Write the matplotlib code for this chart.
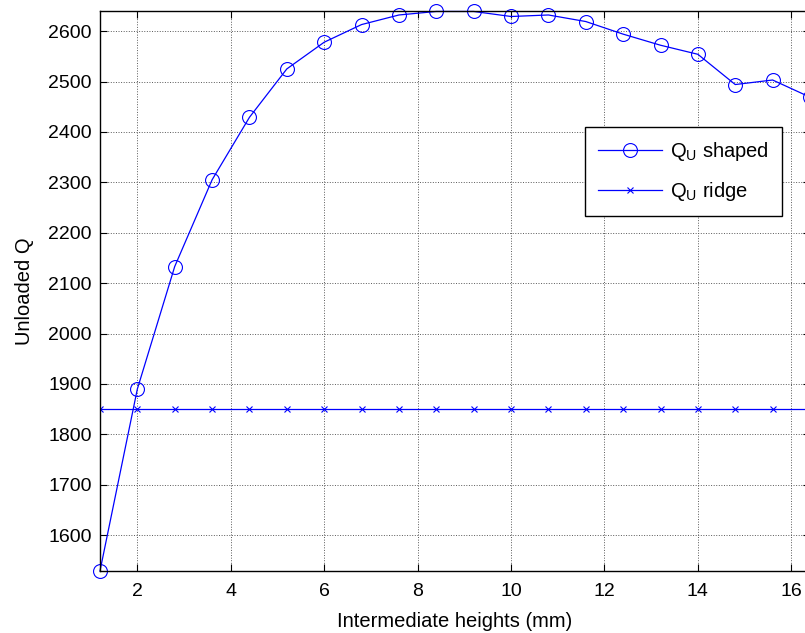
import numpy as np
import matplotlib.pyplot as plt

plt.rcParams['font.family'] = ['Liberation Sans', 'DejaVu Sans']
plt.rcParams['mathtext.fontset'] = 'custom'
plt.rcParams['mathtext.rm'] = 'Liberation Sans'
plt.rcParams['mathtext.it'] = 'Liberation Sans'

# intermediate heights (mm) and unloaded Q values
heights = [1.2, 2.0, 2.8, 3.6, 4.4, 5.2, 6.0, 6.8, 7.6, 8.4,
           9.2, 10.0, 10.8, 11.6, 12.4, 13.2, 14.0, 14.8, 15.6, 16.4]
q_shaped = [1529, 1890, 2133, 2305, 2429, 2525, 2578, 2613, 2632, 2639,
            2639, 2629, 2632, 2619, 2594, 2572, 2554, 2494, 2503, 2469]
q_ridge = [1850] * len(heights)

fig = plt.figure(figsize=(8.05, 6.33), dpi=100)
ax = fig.add_axes([0.1242, 0.098, 0.882, 0.8847])

ax.plot(heights, q_shaped, '-o', color='blue', lw=0.9, ms=10,
        mfc='none', mew=0.8, label=r'Q$_{\mathrm{U}}$ shaped', clip_on=False)
ax.plot(heights, q_ridge, '-x', color='blue', lw=0.9, ms=5,
        mew=0.8, label=r'Q$_{\mathrm{U}}$ ridge')

ax.set_xlim(1.2, 16.4)
ax.set_ylim(1529, 2640)
ax.set_xticks(np.arange(2, 17, 2))
ax.set_yticks(np.arange(1600, 2601, 100))

ax.grid(True, linestyle=':', color='0.35', linewidth=0.7)
ax.tick_params(direction='in', length=5, top=True, right=True,
               labelsize=14, width=0.8)
ax.tick_params(axis='x', pad=9)
ax.tick_params(axis='y', pad=6)
for s in ax.spines.values():
    s.set_linewidth(1.0)

ax.set_xlabel('Intermediate heights (mm)', fontsize=14.5, labelpad=8)
ax.set_ylabel('Unloaded Q', fontsize=14.5, labelpad=10)

leg = ax.legend(loc='upper left', bbox_to_anchor=(0.683, 0.793),
                borderaxespad=0, fontsize=14.5, fancybox=False,
                framealpha=1, edgecolor='black', handlelength=3.2,
                borderpad=0.65, labelspacing=0.85, handletextpad=0.35)
leg.get_frame().set_linewidth(1.0)

fig.savefig('out.png', dpi=100)
